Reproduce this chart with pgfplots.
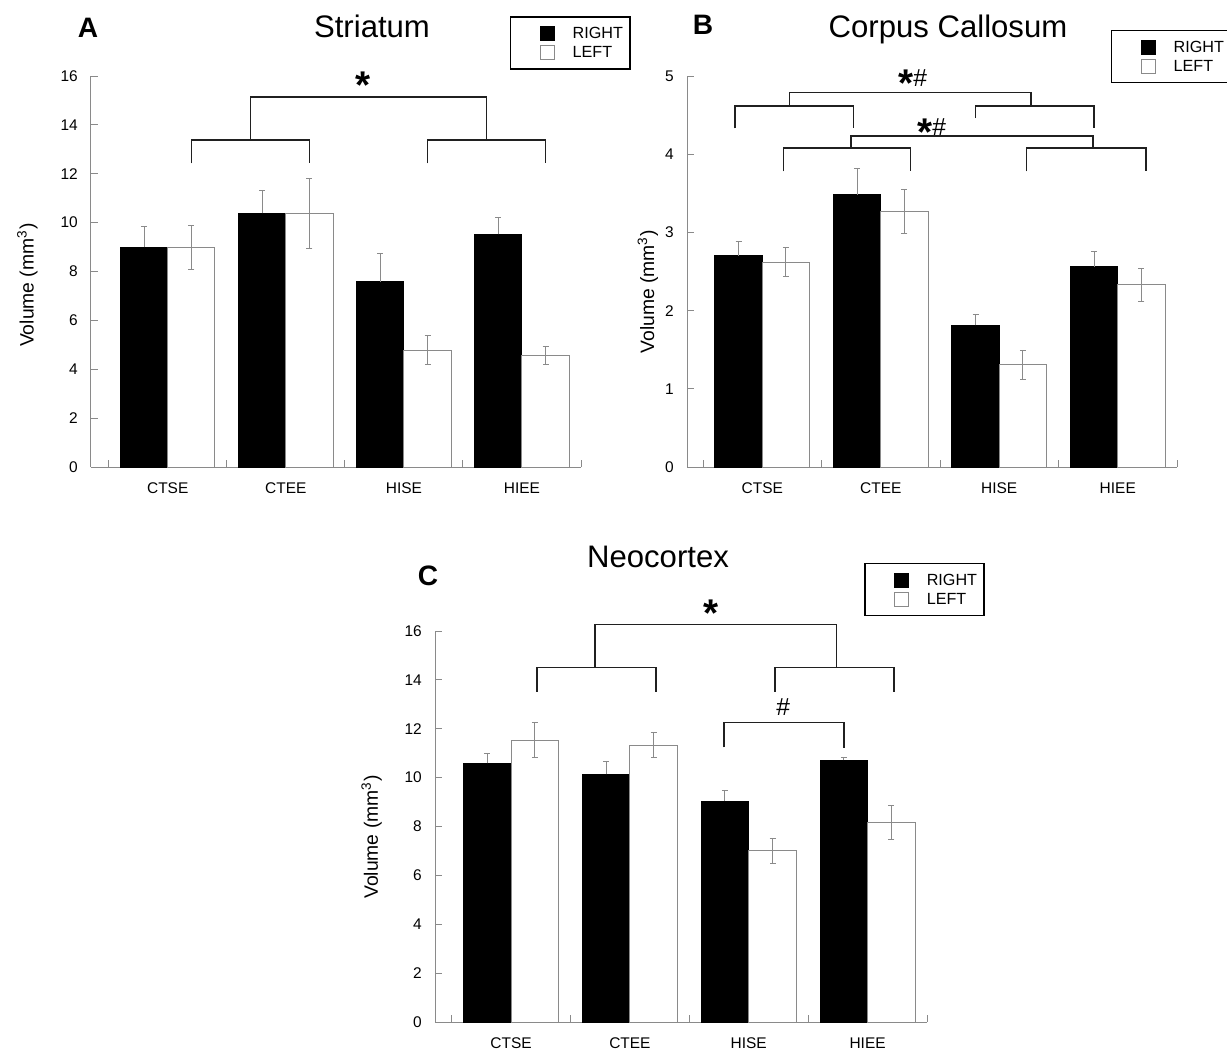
\documentclass[border=0pt]{standalone}
\usepackage{fontspec}
\setmainfont{Liberation Sans}
\usepackage{pgfplots}
\pgfplotsset{compat=1.18}

\definecolor{axgray}{HTML}{8A8A8A}
\definecolor{bargray}{HTML}{8A8A8A}
\definecolor{brk}{HTML}{202020}

\tikzset{
  brkt/.style={draw=brk, line width=0.32mm},
  starlbl/.style={anchor=base, yshift=-3.6mm, inner sep=0, font=\fontsize{22}{22}\selectfont\bfseries},
}
\newcommand{\starhash}{{\fontsize{22}{22}\selectfont\bfseries\raisebox{-2.0mm}{*}}{\fontsize{14}{14}\selectfont\#}}

\pgfplotsset{
  panel/.style={
    scale only axis, width=98mm, height=78.2mm,
    anchor=south west,
    axis x line*=bottom, axis y line*=left,
    axis line style={axgray, line width=0.2mm},
    tick style={axgray, line width=0.2mm},
    tick align=inside,
    major tick length=1.4mm,
    xmax=3.5, ymin=0, clip=false,
    xtick={-0.5,0.5,1.5,2.5,3.5}, xticklabels={},
    extra x ticks={0,1,2,3},
    extra x tick labels={CTSE,CTEE,HISE,HIEE},
    extra x tick style={major tick length=0pt},
    xticklabel style={font=\fontsize{8.8}{10}\selectfont, anchor=base, yshift=-5.2mm},
    yticklabel style={font=\fontsize{8.8}{10}\selectfont, xshift=-1.4mm},
    /pgf/number format/assume math mode=true,
    ylabel={Volume (mm\textsuperscript{3})},
    ylabel style={font=\fontsize{11}{12}\selectfont, anchor=base},
    legend cell align=left,
    legend style={anchor=north west, draw=black, line width=0.3mm,
      inner xsep=0.4mm, inner ysep=1.4mm, font=\fontsize{9.2}{10}\selectfont,
      nodes={inner xsep=1mm, inner ysep=0.4mm, text height=2.6mm, text depth=0.4mm}},
  },
  % bars are plotted at their own x (category -/+ 0.2) so the error bars sit on them
  rbar/.style={ybar, bar width=0.4, bar shift=0, fill=black, draw=black, line width=0.2mm,
    legend image code/.code={\path (-5.4mm,0) (5.4mm,0);
      \draw[fill=black, draw=black, line width=0.2mm] (0,-1.4mm) rectangle (2.8mm,1.4mm);},
    error bars/.cd, y dir=plus, y explicit,
    error bar style={axgray, line width=0.2mm},
    error mark options={rotate=90, axgray, line width=0.2mm, mark size=0.6mm}},
  lbar/.style={ybar, bar width=0.4, bar shift=0, fill=white, draw=bargray, line width=0.2mm,
    legend image code/.code={\path (-5.4mm,0) (5.4mm,0);
      \draw[fill=white, draw=bargray, line width=0.2mm] (0,-1.4mm) rectangle (2.8mm,1.4mm);},
    error bars/.cd, y dir=both, y explicit,
    error bar style={axgray, line width=0.2mm},
    error mark options={rotate=90, axgray, line width=0.2mm, mark size=0.6mm}},
}

\begin{document}
\begin{tikzpicture}
\path[use as bounding box] (0,0) rectangle (1227*0.2mm,-1053*0.2mm);

% panel letters and titles
\node[anchor=base, font=\fontsize{16}{16}\selectfont\bfseries] at (88*0.2mm,-37*0.2mm) {A};
\node[anchor=base, font=\fontsize{17.7}{18}\selectfont] at (372*0.2mm,-37*0.2mm) {Striatum};
\node[anchor=base, font=\fontsize{16}{16}\selectfont\bfseries] at (703*0.2mm,-34*0.2mm) {B};
\node[anchor=base, font=\fontsize{17.7}{18}\selectfont] at (948*0.2mm,-37*0.2mm) {Corpus Callosum};
\node[anchor=base, font=\fontsize{16}{16}\selectfont\bfseries] at (428*0.2mm,-585*0.2mm) {C};
\node[anchor=base, font=\fontsize{17.7}{18}\selectfont] at (658*0.2mm,-567*0.2mm) {Neocortex};

% ---------------- A: Striatum
\begin{axis}[panel, at={(91*0.2mm,-467*0.2mm)},
  xmin=-0.65, ymax=16, ytick={0,2,...,16},
  ylabel style={at={(axis description cs:-0.117,0.465)}},
  legend style={at={(axis description cs:0.855,1.153)}}]
\addplot[rbar] coordinates {(-0.2,9.00) +- (0,0.83) (0.8,10.38) +- (0,0.95) (1.8,7.58) +- (0,1.16) (2.8,9.52) +- (0,0.70)};
\addplot[lbar] coordinates {(0.2,9.00) +- (0,0.90) (1.2,10.38) +- (0,1.43) (2.2,4.78) +- (0,0.60) (3.2,4.56) +- (0,0.38)};
\legend{RIGHT,LEFT}
\draw[brkt] (axis cs:0.2,12.42) -- (axis cs:0.2,13.38) -- (axis cs:1.2,13.38) -- (axis cs:1.2,12.42);
\draw[brkt] (axis cs:2.2,12.42) -- (axis cs:2.2,13.38) -- (axis cs:3.2,13.38) -- (axis cs:3.2,12.42);
\draw[brkt] (axis cs:0.7,13.38) -- (axis cs:0.7,15.15) -- (axis cs:2.7,15.15) -- (axis cs:2.7,13.38);
\node[starlbl] at (axis cs:1.65,15.8) {*};
\end{axis}

% ---------------- B: Corpus Callosum
\begin{axis}[panel, at={(687*0.2mm,-467*0.2mm)},
  xmin=-0.635, ymax=5, ytick={0,1,...,5},
  ylabel style={at={(axis description cs:-0.067,0.448)}},
  legend style={at={(axis description cs:0.865,1.118)}}]
\addplot[rbar] coordinates {(-0.2,2.70) +- (0,0.19) (0.8,3.48) +- (0,0.34) (1.8,1.81) +- (0,0.14) (2.8,2.56) +- (0,0.20)};
\addplot[lbar] coordinates {(0.2,2.62) +- (0,0.19) (1.2,3.27) +- (0,0.28) (2.2,1.31) +- (0,0.185) (3.2,2.33) +- (0,0.21)};
\legend{RIGHT,LEFT}
% right hemisphere comparisons
\draw[brkt] (axis cs:-0.23,4.33) -- (axis cs:-0.23,4.62) -- (axis cs:0.77,4.62) -- (axis cs:0.77,4.33);
\draw[brkt] (axis cs:1.80,4.46) -- (axis cs:1.80,4.62) -- (axis cs:2.80,4.62) -- (axis cs:2.80,4.33);
\draw[brkt] (axis cs:0.23,4.62) -- (axis cs:0.23,4.79) -- (axis cs:2.27,4.79) -- (axis cs:2.27,4.62);
\node[anchor=base, inner sep=0] at (axis cs:1.27,4.87) {\starhash};
% left hemisphere comparisons
\draw[brkt] (axis cs:0.18,3.78) -- (axis cs:0.18,4.08) -- (axis cs:1.25,4.08) -- (axis cs:1.25,3.78);
\draw[brkt] (axis cs:2.23,3.78) -- (axis cs:2.23,4.08) -- (axis cs:3.24,4.08) -- (axis cs:3.24,3.78);
\draw[brkt] (axis cs:0.75,4.08) -- (axis cs:0.75,4.23) -- (axis cs:2.79,4.23) -- (axis cs:2.79,4.08);
\node[anchor=base, inner sep=0] at (axis cs:1.43,4.245) {\starhash};
\end{axis}

% ---------------- C: Neocortex
\begin{axis}[panel, at={(435*0.2mm,-1022*0.2mm)}, width=98.4mm,
  xmin=-0.64, ymax=16, ytick={0,2,...,16},
  ylabel style={at={(axis description cs:-0.116,0.473)}},
  legend style={at={(axis description cs:0.872,1.174)}}]
\addplot[rbar] coordinates {(-0.2,10.58) +- (0,0.41) (0.8,10.13) +- (0,0.55) (1.8,9.04) +- (0,0.44) (2.8,10.72) +- (0,0.11)};
\addplot[lbar] coordinates {(0.2,11.54) +- (0,0.73) (1.2,11.33) +- (0,0.52) (2.2,7.00) +- (0,0.52) (3.2,8.18) +- (0,0.70)};
\legend{RIGHT,LEFT}
\draw[brkt] (axis cs:0.22,13.52) -- (axis cs:0.22,14.50) -- (axis cs:1.22,14.50) -- (axis cs:1.22,13.52);
\draw[brkt] (axis cs:2.22,13.52) -- (axis cs:2.22,14.50) -- (axis cs:3.22,14.50) -- (axis cs:3.22,13.52);
\draw[brkt] (axis cs:0.705,14.50) -- (axis cs:0.705,16.27) -- (axis cs:2.74,16.27) -- (axis cs:2.74,14.50);
\node[starlbl] at (axis cs:1.68,16.93) {*};
\draw[brkt] (axis cs:1.79,11.24) -- (axis cs:1.79,12.25) -- (axis cs:2.80,12.25) -- (axis cs:2.80,11.20);
\node[anchor=base, inner sep=0, font=\fontsize{14}{14}\selectfont] at (axis cs:2.29,12.56) {\#};
\end{axis}
\end{tikzpicture}
\end{document}
